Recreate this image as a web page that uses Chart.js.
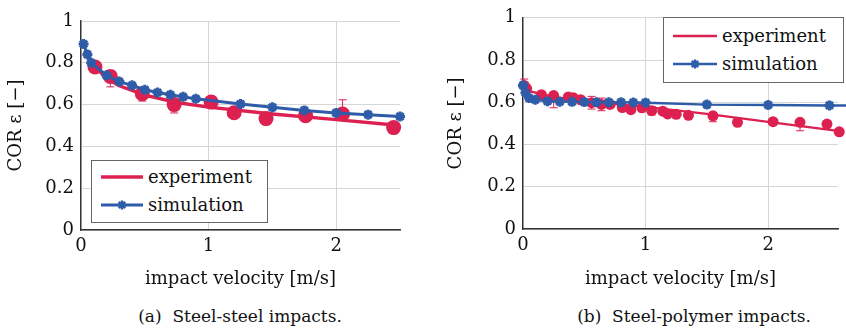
<!DOCTYPE html>
<html lang="en">
<head>
  <meta charset="UTF-8">
  <title>COR vs impact velocity</title>
  <script src="https://cdn.jsdelivr.net/npm/chart.js"></script>
  <style>
    body{margin:0;width:846px;height:332px;overflow:hidden;background:#fff;font-family:"DejaVu Serif","Liberation Serif",serif;}
    .plot{position:absolute;top:0;height:300px}
    #wrapA{left:0;width:420px}
    #wrapB{left:440px;width:406px}
    .legend{position:absolute;border:1px solid #666;background:#fff;box-sizing:border-box}
    .legend .row{position:absolute;left:0;right:0;height:26px;font-size:18px;line-height:26px;color:#111}
    .legend svg{position:absolute;top:6px}
    .legend span{position:absolute;top:0}
    .caption{position:absolute;top:306px;font-size:17px;color:#111;white-space:nowrap;transform:translateX(-50%)}
  </style>
</head>
<body>

<div class="plot" id="wrapA"><canvas id="chartA"></canvas></div>
<div class="plot" id="wrapB"><canvas id="chartB"></canvas></div>
<div class="legend" id="legA" style="left:91px;top:160px;width:177px;height:63px"></div>
<div class="legend" id="legB" style="left:663px;top:17px;width:181px;height:66px"></div>
<div class="caption" style="left:240px">(a)&nbsp; Steel-steel impacts.</div>
<div class="caption" style="left:694px">(b)&nbsp; Steel-polymer impacts.</div>

<script>
// (a) steel-steel
const steelSimX = [0.02, 0.05, 0.08, 0.2, 0.3, 0.4, 0.5, 0.6, 0.7, 0.8, 0.9, 1.25, 1.5, 1.75, 2.0, 2.25, 2.5];
const steelSimY = [0.89, 0.84, 0.80, 0.74, 0.71, 0.692, 0.671, 0.658, 0.647, 0.637, 0.628, 0.603, 0.587, 0.572, 0.56, 0.552, 0.543];
const steelExpX = [0.11, 0.23, 0.48, 0.73, 1.02, 1.2, 1.45, 1.76, 2.05, 2.45];
const steelExpY = [0.78, 0.735, 0.652, 0.60, 0.612, 0.561, 0.533, 0.547, 0.555, 0.49];
const steelErrLo = [0.01, 0.05, 0.035, 0.04, 0.01, 0.01, 0.01, 0.02, 0.01, 0.02];
const steelErrHi = [0.01, 0.01, 0.01, 0.01, 0.01, 0.01, 0.01, 0.02, 0.068, 0.02];
const steelFitX = [0.12, 0.2, 0.3, 0.5, 0.75, 1.0, 1.5, 2.0, 2.5];
const steelFitY = [0.775, 0.725, 0.69, 0.645, 0.61, 0.588, 0.555, 0.528, 0.50];

// (b) steel-polymer
const polySimX = [0, 0.02, 0.05, 0.1, 0.2, 0.3, 0.4, 0.5, 0.6, 0.7, 0.8, 0.9, 1.0, 1.5, 2.0, 2.5, 2.75];
const polySimY = [0.68, 0.645, 0.62, 0.612, 0.605, 0.603, 0.602, 0.601, 0.60, 0.60, 0.60, 0.599, 0.598, 0.589, 0.587, 0.585, 0.584];
const polyExpX = [0.01, 0.03, 0.15, 0.25, 0.37, 0.41, 0.47, 0.56, 0.64, 0.71, 0.81, 0.88, 0.97, 1.05, 1.14, 1.18, 1.25, 1.35, 1.55, 1.75, 2.04, 2.26, 2.48, 2.58];
const polyExpY = [0.68, 0.665, 0.636, 0.632, 0.625, 0.622, 0.612, 0.598, 0.59, 0.59, 0.575, 0.565, 0.574, 0.56, 0.558, 0.545, 0.543, 0.538, 0.536, 0.505, 0.508, 0.505, 0.497, 0.46];
const polyErrLo = [0.01, 0.01, 0.01, 0.058, 0.01, 0.01, 0.01, 0.03, 0.03, 0.01, 0.01, 0.01, 0.01, 0.02, 0.01, 0.01, 0.01, 0.01, 0.028, 0.01, 0.01, 0.04, 0.01, 0.01];
const polyErrHi = [0.03, 0.01, 0.01, 0.01, 0.01, 0.01, 0.01, 0.03, 0.03, 0.01, 0.01, 0.01, 0.01, 0.02, 0.01, 0.01, 0.01, 0.01, 0.01, 0.01, 0.01, 0.01, 0.01, 0.01];
const polyFitX = [0, 0.25, 0.5, 1.0, 1.5, 2.0, 2.6];
const polyFitY = [0.66, 0.625, 0.605, 0.578, 0.545, 0.507, 0.462];

const xTicks = [0, 1, 2];
const yTicks = [0, 0.2, 0.4, 0.6, 0.8, 1];
const xTitle = 'impact velocity [m/s]';
const yTitle = 'COR \u03b5 [\u2212]';
const seriesNames = ['experiment', 'simulation'];

const RED = '#dc2150';
const BLUE = '#2e5ca8';
const FONT = '"DejaVu Serif", "Liberation Serif", serif';

function pts(xs, ys){ return xs.map((x, i) => ({x: x, y: ys[i]})); }

const errorBars = {
  id: 'errorBars',
  beforeDatasetsDraw(chart){
    const ctx = chart.ctx, ys = chart.scales.y;
    chart.data.datasets.forEach((ds, i) => {
      if (!ds.errLo) return;
      const meta = chart.getDatasetMeta(i);
      ctx.save();
      ctx.strokeStyle = ds.backgroundColor;
      ctx.lineWidth = 1;
      meta.data.forEach((p, j) => {
        const v = ds.data[j].y;
        const lo = ys.getPixelForValue(v - ds.errLo[j]);
        const hi = ys.getPixelForValue(v + ds.errHi[j]);
        ctx.beginPath();
        ctx.moveTo(p.x, lo); ctx.lineTo(p.x, hi);
        ctx.moveTo(p.x - 4, lo); ctx.lineTo(p.x + 4, lo);
        ctx.moveTo(p.x - 4, hi); ctx.lineTo(p.x + 4, hi);
        ctx.stroke();
      });
      ctx.restore();
    });
  }
};

function makeChart(id, c){
  return new Chart(document.getElementById(id), {
    type: 'scatter',
    data: {
      datasets: [
        { label: seriesNames[1], data: pts(c.simX, c.simY), showLine: true,
          borderColor: BLUE, backgroundColor: BLUE, borderWidth: c.lw,
          pointStyle: 'star', pointRadius: 5, pointBorderWidth: 3, pointHoverRadius: 5 },
        { label: '', data: pts(c.expX, c.expY), showLine: false,
          backgroundColor: RED, borderWidth: 0, pointRadius: c.r, pointHoverRadius: c.r,
          errLo: c.errLo, errHi: c.errHi },
        { label: seriesNames[0], data: pts(c.fitX, c.fitY), showLine: true,
          borderColor: RED, backgroundColor: RED, borderWidth: c.lwFit, pointRadius: 0, pointHoverRadius: 0 }
      ]
    },
    options: {
      responsive: true,
      maintainAspectRatio: false,
      animation: false,
      clip: false,
      layout: { padding: { top: c.top, right: c.right, left: 0, bottom: 0 } },
      plugins: { legend: { display: false }, tooltip: { enabled: false } },
      scales: {
        x: {
          type: 'linear', min: 0, max: c.xMax,
          afterFit: s => { s.height = c.xH; },
          afterBuildTicks: s => { s.ticks = xTicks.map(v => ({value: v})); },
          grid: { color: '#d6d6d6', drawTicks: false },
          border: { color: '#333', width: 1.4 },
          ticks: { padding: 6, color: '#111', font: { family: FONT, size: 18 }, includeBounds: false },
          title: { display: true, text: xTitle, color: '#111', font: { family: FONT, size: 18 }, padding: { top: 0, bottom: 10 } }
        },
        y: {
          type: 'linear', min: 0, max: 1,
          afterFit: s => { s.width = c.yW; },
          afterBuildTicks: s => { s.ticks = yTicks.map(v => ({value: v})); },
          grid: { color: '#d6d6d6', drawTicks: false },
          border: { color: '#333', width: 1.4 },
          ticks: { padding: 7, color: '#111', font: { family: FONT, size: 18 }, callback: v => String(+v.toFixed(1)) },
          title: { display: true, text: yTitle, color: '#111', font: { family: FONT, size: 18 }, padding: { top: 6, bottom: 6 } }
        }
      }
    },
    plugins: [errorBars]
  });
}

function buildLegend(el, chart, lay){
  const items = chart.data.datasets.filter(d => d.label).reverse();
  items.forEach((d, i) => {
    const row = document.createElement('div');
    row.className = 'row';
    row.style.top = lay.rows[i] + 'px';
    let svg = '<svg width="48" height="14" style="left:' + lay.sx + 'px">' +
      '<line x1="1" y1="7" x2="' + (lay.len + 1) + '" y2="7" stroke="' + d.borderColor + '" stroke-width="' + d.borderWidth + '"/>';
    if (d.pointStyle === 'star') {
      const cx = lay.len / 2 + 1, r = 4.5;
      svg += '<g stroke="' + d.borderColor + '" stroke-width="2.5">' +
        '<line x1="' + (cx - r) + '" y1="7" x2="' + (cx + r) + '" y2="7"/>' +
        '<line x1="' + cx + '" y1="' + (7 - r) + '" x2="' + cx + '" y2="' + (7 + r) + '"/>' +
        '<line x1="' + (cx - 3.2) + '" y1="3.8" x2="' + (cx + 3.2) + '" y2="10.2"/>' +
        '<line x1="' + (cx - 3.2) + '" y1="10.2" x2="' + (cx + 3.2) + '" y2="3.8"/></g>';
    }
    svg += '</svg>';
    row.innerHTML = svg + '<span style="left:' + lay.tx + 'px">' + d.label + '</span>';
    el.appendChild(row);
  });
}

const chartA = makeChart('chartA', {
  simX: steelSimX, simY: steelSimY, expX: steelExpX, expY: steelExpY,
  errLo: steelErrLo, errHi: steelErrHi, fitX: steelFitX, fitY: steelFitY,
  xMax: 2.5, top: 21, right: 20, xH: 70, yW: 81, lw: 3, lwFit: 3.4, r: 7.5
});
const chartB = makeChart('chartB', {
  simX: polySimX, simY: polySimY, expX: polyExpX, expY: polyExpY,
  errLo: polyErrLo, errHi: polyErrHi, fitX: polyFitX, fitY: polyFitY,
  xMax: 2.57, top: 13, right: 0, xH: 71, yW: 83, lw: 2.4, lwFit: 2.4, r: 5.5
});

buildLegend(document.getElementById('legA'), chartA, { rows: [3, 31], sx: 8, len: 42, tx: 56 });
buildLegend(document.getElementById('legB'), chartB, { rows: [5, 33], sx: 8, len: 44, tx: 58 });
</script>
</body>
</html>
